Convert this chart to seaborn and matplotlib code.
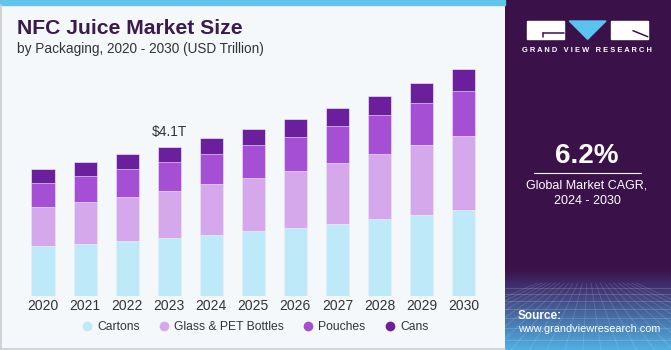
import numpy as np
import pandas as pd
import matplotlib
matplotlib.use("Agg")
import matplotlib.pyplot as plt
import seaborn as sns
from matplotlib.lines import Line2D
from matplotlib.patches import Rectangle, Polygon

# --- data (USD Trillion) ---
years = ["2020", "2021", "2022", "2023", "2024", "2025", "2026", "2027", "2028", "2029", "2030"]
cartons = [1.37, 1.44, 1.51, 1.60, 1.68, 1.78, 1.88, 1.99, 2.11, 2.24, 2.37]
glass_pet = [1.07, 1.14, 1.22, 1.29, 1.40, 1.47, 1.56, 1.67, 1.80, 1.92, 2.05]
pouches = [0.68, 0.72, 0.77, 0.80, 0.84, 0.91, 0.95, 1.02, 1.09, 1.16, 1.24]
cans = [0.37, 0.38, 0.41, 0.41, 0.44, 0.44, 0.50, 0.50, 0.52, 0.56, 0.60]
segments = ["Cartons", "Glass & PET Bottles", "Pouches", "Cans"]
colors = ["#bde9f9", "#d5a8ec", "#a54fd5", "#6c1f9c"]
callout_year = "2023"
callout_text = "$4.1T"
cagr = "6.2%"

df = pd.DataFrame({"year": years, "Cartons": cartons, "Glass & PET Bottles": glass_pet,
                   "Pouches": pouches, "Cans": cans})
cum = df[segments].cumsum(axis=1)

BG = "#f4f8fb"
PANEL = "#3a1249"

sns.set_style("white")
plt.rcParams["font.family"] = ["Liberation Sans", "DejaVu Sans"]

fig = plt.figure(figsize=(6.71, 3.5), dpi=100, facecolor=BG)

# --- main chart ---
ax = fig.add_axes([17.8 / 671, 54.3 / 350, 471 / 671, 235.7 / 350])
ax.set_facecolor(BG)
# stacked bars: draw cumulative totals from the top segment down
for seg, c in reversed(list(zip(segments, colors))):
    sns.barplot(x=df["year"], y=cum[seg], color=c, saturation=1, width=0.55,
                ax=ax, edgecolor=BG, linewidth=0.4)
ax.set_xlim(-0.6, 10.6)
ax.set_ylim(0, 6.51)
ax.set_xlabel("")
ax.set_ylabel("")
ax.set_yticks([])
ax.tick_params(axis="x", length=0, pad=2.5, labelsize=10, labelcolor="#333333")
sns.despine(ax=ax, left=True, bottom=True)

i = years.index(callout_year)
ax.annotate(callout_text, xy=(i, cum["Cans"][i]), xytext=(0, 6), textcoords="offset points",
            ha="center", va="bottom", fontsize=10, color="#333333")

handles = [Line2D([], [], marker="o", linestyle="", markersize=7, color=c, markeredgewidth=0)
           for c in colors]
fig.legend(handles, segments, loc="center left", bbox_to_anchor=(82 / 671, 1 - 327 / 350),
           ncol=4, frameon=False, fontsize=8.7, handlelength=0.8, handletextpad=0.45,
           columnspacing=1.6, borderpad=0, borderaxespad=0, labelcolor="#333333")

# titles
fig.text(17 / 671, 1 - 28 / 350, "NFC Juice Market Size", fontsize=15.2, fontweight="bold",
         color="#3b1a4c", va="center", ha="left")
fig.text(17 / 671, 1 - 49 / 350, "by Packaging, 2020 - 2030 (USD Trillion)", fontsize=9.8,
         color="#333333", va="center", ha="left")

# frame decorations
fig.patches.append(Rectangle((0, 1 - 5 / 350), 505 / 671, 5 / 350, transform=fig.transFigure,
                             color="#62c3ec", zorder=0))
fig.lines.append(Line2D([0, 505 / 671], [1.5 / 350, 1.5 / 350], transform=fig.transFigure,
                        color="#c9cdd2", lw=1.2))
fig.lines.append(Line2D([0.7 / 671, 0.7 / 671], [0, 1 - 5 / 350], transform=fig.transFigure,
                        color="#c9cdd2", lw=1.2))

# --- right panel ---
pax = fig.add_axes([505 / 671, 0, 166 / 671, 1])
pax.set_xlim(0, 166)
pax.set_ylim(350, 0)
pax.axis("off")
top = np.array(matplotlib.colors.to_rgb(PANEL))
mid = np.array(matplotlib.colors.to_rgb("#3f2d6a"))
bot = np.array(matplotlib.colors.to_rgb("#4fb0e2"))
rows = np.linspace(0, 350, 350)
grad = np.zeros((350, 1, 3))
for k, yy in enumerate(rows):
    if yy < 270:
        grad[k, 0] = top
    elif yy < 285:
        t = (yy - 270) / 15
        grad[k, 0] = top * (1 - t) + mid * t
    else:
        t = (yy - 285) / 65
        grad[k, 0] = mid * (1 - t) + bot * t
pax.imshow(grad, extent=(0, 166, 350, 0), aspect="auto", zorder=0)
# faint perspective grid
for yy in [288, 294, 301, 309, 318, 328, 340]:
    pax.plot([0, 166], [yy, yy], color="white", alpha=0.18, lw=0.6)
for xx in np.arange(-120, 290, 18):
    pax.plot([83 + (xx - 83) * 0.25, xx], [283, 350], color="white", alpha=0.15, lw=0.6)

# logo
pax.add_patch(Rectangle((21.7, 21), 37.3, 18.3, color="white", zorder=2))
pax.plot([38, 59], [32.7, 32.7], color=PANEL, lw=1.1, zorder=3)
pax.plot([38, 38], [32.7, 37], color=PANEL, lw=1.1, zorder=3)
pax.add_patch(Polygon([(64.3, 21), (101, 21), (82.6, 39.3)], color="#5bc3ef", zorder=2))
pax.add_patch(Rectangle((105.7, 21), 37, 18.3, color="white", zorder=2))
pax.plot([128, 142.7], [30.7, 36.7], color=PANEL, lw=1.1, zorder=3)
pax.text(82, 50.7, "G R A N D   V I E W   R E S E A R C H", fontsize=5.4, fontweight="bold",
         color="white", ha="center", va="center")

pax.text(82, 156, cagr, fontsize=20, fontweight="bold", color="white", ha="center", va="center")
pax.plot([29, 135.7], [173.3, 173.3], color="white", lw=0.8)
pax.text(82, 186, "Global Market CAGR,", fontsize=9, color="white", ha="center", va="center")
pax.text(82, 201, "2024 - 2030", fontsize=9, color="white", ha="center", va="center")
pax.text(13, 316, "Source:", fontsize=8.5, fontweight="bold", color="white", ha="left", va="center")
pax.text(13, 329.5, "www.grandviewresearch.com", fontsize=7.8, color="white", ha="left",
         va="center")

fig.savefig("out.png", dpi=100, facecolor=BG)
